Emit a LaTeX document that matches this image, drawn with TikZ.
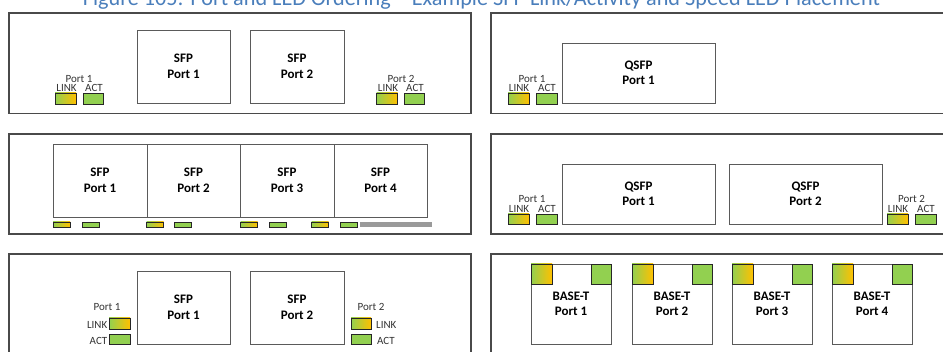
\documentclass[tikz,border=0pt]{standalone}
\usepackage{fontspec}
\setmainfont{Carlito}
\definecolor{ledgreen}{HTML}{92D050}
\definecolor{ledorange}{HTML}{FFC000}
\definecolor{framegray}{HTML}{4A4A4A}
\definecolor{boxgray}{HTML}{5A5A5A}
\definecolor{titleblue}{HTML}{4A7EBB}
\definecolor{bargray}{HTML}{9A9A9A}
\tikzset{
  panel/.style={draw=framegray, line width=1.1pt},
  portbox/.style={draw=boxgray, line width=0.9pt, fill=white, align=center, inner sep=0pt,
    font=\fontsize{13}{15.5}\selectfont\bfseries},
  linkled/.style={draw=black!85, line width=0.7pt, left color=ledgreen, right color=ledorange, inner sep=0pt},
  actled/.style={draw=black!85, line width=0.7pt, fill=ledgreen, inner sep=0pt},
  lbl/.style={font=\fontsize{11}{13}\selectfont, text=black!80, inner sep=0pt, anchor=base},
  bar/.style={fill=bargray, draw=none, inner sep=0pt}
}
\begin{document}
\begin{tikzpicture}[x=1pt,y=-1pt]
\useasboundingbox (0,0) rectangle (943,352);
\clip (0,0) rectangle (943,352);

% title (clipped at top, as in the reference)
\node[font=\fontsize{22.2}{24}\selectfont, text=titleblue, inner sep=0pt, anchor=base] (title) at (481.5,6)
  {Figure 105: Port and LED Ordering – Example SFP Link/Activity and Speed LED Placement};

% panels
\draw[panel] (9,13) rectangle (471,113.5);
\draw[panel] (491,13) rectangle (970,113.5);
\draw[panel] (9,134) rectangle (471,234);
\draw[panel] (491,134) rectangle (970,234);
\draw[panel] (9,254) rectangle (471,380);
\draw[panel] (491,254) rectangle (970,380);

% ---- panel 1 left
\node[portbox, minimum width=93pt, minimum height=73pt] (a1) at (183.5,66.5) {SFP\\Port 1};
\node[portbox, minimum width=94pt, minimum height=73pt] (a2) at (297,66.5) {SFP\\Port 2};
\node[linkled, minimum width=21pt, minimum height=11pt] (a1l) at (65.5,98.5) {};
\node[actled, minimum width=20pt, minimum height=11pt] (a1a) at (93,98.5) {};
\node[linkled, minimum width=21pt, minimum height=11pt] (a2l) at (387,98.5) {};
\node[actled, minimum width=20pt, minimum height=11pt] (a2a) at (414.5,98.5) {};
\node[lbl] (a1p) at (79,82.5) {Port 1};
\node[lbl] (a1lt) at (66.5,92) {LINK};
\node[lbl] (a1at) at (94,92) {ACT};
\node[lbl] (a2p) at (401,82.5) {Port 2};
\node[lbl] (a2lt) at (388,92) {LINK};
\node[lbl] (a2at) at (415,92) {ACT};

% ---- panel 1 right
\node[portbox, minimum width=153pt, minimum height=60pt] (b1) at (638.5,73) {QSFP\\Port 1};
\node[linkled, minimum width=21pt, minimum height=11pt] (b1l) at (518.5,98.5) {};
\node[actled, minimum width=21pt, minimum height=11pt] (b1a) at (546.5,98.5) {};
\node[lbl] (b1p) at (532,82.5) {Port 1};
\node[lbl] (b1lt) at (519,92) {LINK};
\node[lbl] (b1at) at (547,92) {ACT};

% ---- panel 2 left
\node[portbox, minimum width=94pt, minimum height=73pt] (c1) at (100,180.5) {SFP\\Port 1};
\node[portbox, minimum width=93pt, minimum height=73pt] (c2) at (193.5,180.5) {SFP\\Port 2};
\node[portbox, minimum width=94pt, minimum height=73pt] (c3) at (287,180.5) {SFP\\Port 3};
\node[portbox, minimum width=93pt, minimum height=73pt] (c4) at (380.5,180.5) {SFP\\Port 4};
\node[linkled, minimum width=17pt, minimum height=5pt] (c1l) at (61.5,224.5) {};
\node[actled, minimum width=17pt, minimum height=5pt] (c1a) at (90.5,224.5) {};
\node[linkled, minimum width=17pt, minimum height=5pt] (c2l) at (155,224.5) {};
\node[actled, minimum width=17pt, minimum height=5pt] (c2a) at (183,224.5) {};
\node[linkled, minimum width=17pt, minimum height=5pt] (c3l) at (249,224.5) {};
\node[actled, minimum width=17pt, minimum height=5pt] (c3a) at (278,224.5) {};
\node[linkled, minimum width=17pt, minimum height=5pt] (c4l) at (320,224.5) {};
\node[actled, minimum width=17pt, minimum height=5pt] (c4a) at (349,224.5) {};
\node[bar, minimum width=72pt, minimum height=5pt] (cbar) at (396,224.5) {};

% ---- panel 2 right
\node[portbox, minimum width=153pt, minimum height=60pt] (d1) at (638.5,194) {QSFP\\Port 1};
\node[portbox, minimum width=153pt, minimum height=60pt] (d2) at (805.5,194) {QSFP\\Port 2};
\node[linkled, minimum width=21pt, minimum height=10pt] (d1l) at (518.5,219) {};
\node[actled, minimum width=21pt, minimum height=10pt] (d1a) at (546.5,219) {};
\node[linkled, minimum width=21pt, minimum height=10pt] (d2l) at (897.5,219) {};
\node[actled, minimum width=21pt, minimum height=10pt] (d2a) at (925.5,219) {};
\node[lbl] (d1p) at (532,203) {Port 1};
\node[lbl] (d1lt) at (519,212.5) {LINK};
\node[lbl] (d1at) at (547,212.5) {ACT};
\node[lbl] (d2p) at (911.5,203) {Port 2};
\node[lbl] (d2lt) at (898,212.5) {LINK};
\node[lbl] (d2at) at (926,212.5) {ACT};

% ---- panel 3 left
\node[portbox, minimum width=93pt, minimum height=73pt] (e1) at (183.5,307.5) {SFP\\Port 1};
\node[portbox, minimum width=94pt, minimum height=73pt] (e2) at (297,307.5) {SFP\\Port 2};
\node[linkled, minimum width=21pt, minimum height=11pt] (e1l) at (119.5,323.5) {};
\node[actled, minimum width=21pt, minimum height=10pt] (e1a) at (119.5,339.5) {};
\node[linkled, minimum width=20pt, minimum height=11pt] (e2l) at (361,323.5) {};
\node[actled, minimum width=20pt, minimum height=10pt] (e2a) at (361,339.5) {};
\node[lbl] (e1p) at (107,311) {Port 1};
\node[lbl, anchor=base east] (e1lt) at (107.5,329) {LINK};
\node[lbl, anchor=base east] (e1at) at (107.5,345) {ACT};
\node[lbl] (e2p) at (371,311) {Port 2};
\node[lbl, anchor=base west] (e2lt) at (376,329) {LINK};
\node[lbl, anchor=base west] (e2at) at (377,345) {ACT};

% ---- panel 3 right (BASE-T)
\foreach \i/\xl in {1/531,2/632,3/732,4/832}{
  \node[portbox, minimum width=80pt, minimum height=80pt] (f\i) at ({\xl+40},304) {BASE-T\\Port \i};
  \node[linkled, minimum width=21pt, minimum height=20pt] (f\i l) at ({\xl+10.5},274) {};
  \node[actled, minimum width=20pt, minimum height=20pt] (f\i a) at ({\xl+70},274) {};
}
\end{tikzpicture}
\end{document}
